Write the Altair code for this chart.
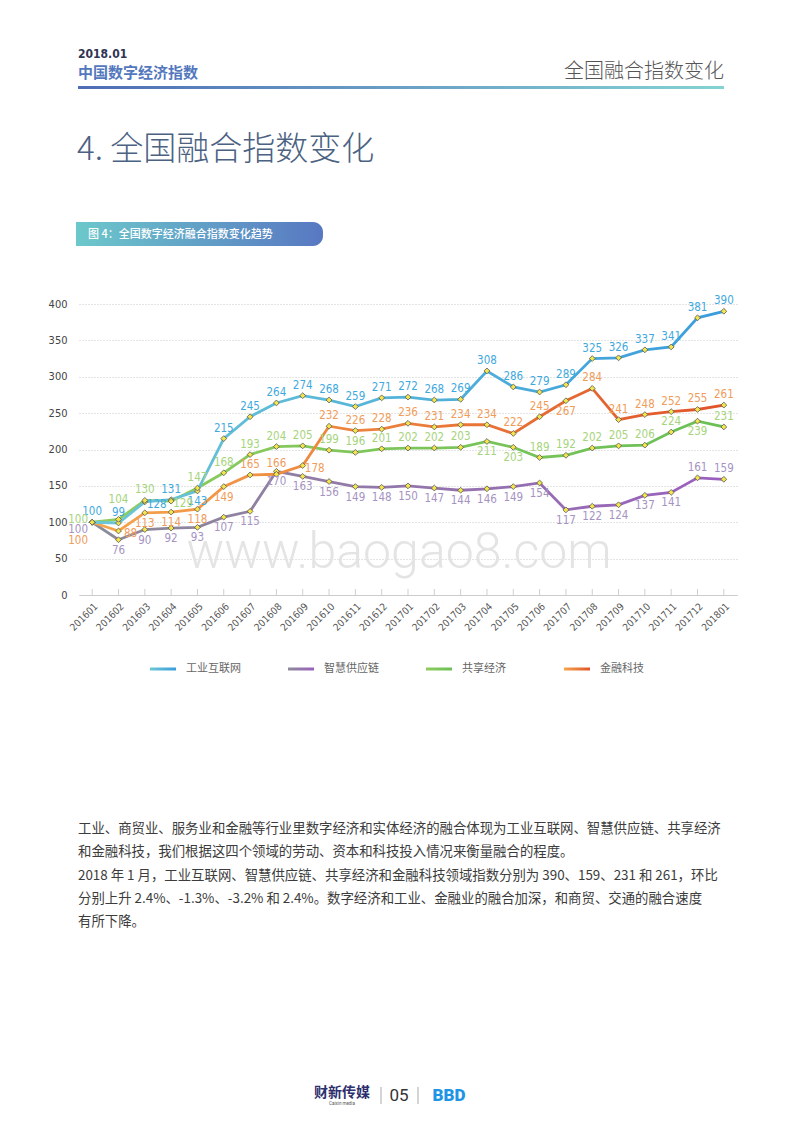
import altair as alt
import pandas as pd

# ---------------- data ----------------
months = ["201601", "201602", "201603", "201604", "201605", "201606", "201607",
          "201608", "201609", "201610", "201611", "201612", "201701", "201702",
          "201703", "201704", "201705", "201706", "201707", "201708", "201709",
          "201710", "201711", "201712", "201801"]
series = ["工业互联网", "智慧供应链", "共享经济", "金融科技"]

industrial_internet = [100, 99, 128, 131, 143, 215, 245, 264, 274, 268, 259, 271, 272,
                       268, 269, 308, 286, 279, 289, 325, 326, 337, 341, 381, 390]
smart_supply_chain = [100, 76, 90, 92, 93, 107, 115, 170, 163, 156, 149, 148, 150,
                      147, 144, 146, 149, 154, 117, 122, 124, 137, 141, 161, 159]
sharing_economy = [100, 104, 130, 129, 147, 168, 193, 204, 205, 199, 196, 201, 202,
                   202, 203, 211, 203, 189, 192, 202, 205, 206, 224, 239, 231]
fintech = [100, 88, 113, 114, 118, 149, 165, 166, 178, 232, 226, 228, 236,
           231, 234, 234, 222, 245, 267, 284, 241, 248, 252, 255, 261]

# label placement codes (style only)
place_ii = ["a", "a", "r", "a", "b"] + ["a"] * 20
place_ss = ["l2"] + ["b"] * 22 + ["a", "a"]
place_se = ["l", "a2", "a", "r"] + ["a"] * 11 + ["b", "b"] + ["a"] * 6 + ["b", "a"]
place_ft = ["l3", "r", "b", "b", "b", "b", "a", "a", "r"] + ["a"] * 9 + ["b"] + ["a"] * 6

values = [industrial_internet, smart_supply_chain, sharing_economy, fintech]
places = [place_ii, place_ss, place_se, place_ft]

rows = []
for s, vals, pl in zip(series, values, places):
    for m, v, p in zip(months, vals, pl):
        rows.append({"month": m, "series": s, "value": v, "place": p})
df = pd.DataFrame(rows)
df_months = pd.DataFrame({"month": months})
one = pd.DataFrame({"k": [0]})

# ---------------- styles ----------------
CJK = "Noto Sans CJK SC"
NUM = "Liberation Sans Narrow, DejaVu Sans Condensed, Roboto Condensed, Roboto, sans-serif"

label_colors = ["#3fa9de", "#a593c2", "#a6d47c", "#f09c5a"]
line_stops = {
    "工业互联网": ["#6cc7d6", "#3a9ddc"],
    "智慧供应链": ["#8c8c98", "#9a5fbf"],
    "共享经济": ["#90cc5e", "#6abf56"],
    "金融科技": ["#f5a64c", "#e0542a"],
}


def grad(c1, c2):
    return alt.Gradient(gradient="linear",
                        stops=[alt.GradientStop(color=c1, offset=0),
                               alt.GradientStop(color=c2, offset=1)],
                        x1=0, x2=1, y1=0, y2=0)


PLACE = {"a": (0, -10), "a2": (0, -19), "b": (0, 11), "r": (12, 3),
         "l": (-14, -2), "l2": (-14, 8), "l3": (-14, 19)}

X = alt.X("month:N", sort=months,
          scale=alt.Scale(type="point", padding=0.5),
          axis=alt.Axis(labelAngle=-45, labelFontSize=10, labelColor="#555555",
                        labelFont=NUM, domainColor="#cccccc", domainWidth=1,
                        ticks=False, labelPadding=6, title=None, grid=False))
Y = alt.Y("value:Q", scale=alt.Scale(domain=[0, 400], nice=False),
          axis=alt.Axis(values=[0, 50, 100, 150, 200, 250, 300, 350, 400],
                        grid=True, gridDash=[1, 2], gridColor="#c8c8c8",
                        domain=False, ticks=False, labelPadding=12,
                        labelFontSize=11, labelColor="#444444", labelFont=NUM,
                        title=None))


def txt(text, x, y, size, color, weight="normal", font=CJK, align="left",
        baseline="middle"):
    return alt.Chart(one).mark_text(
        text=text, align=align, baseline=baseline, fontSize=size, font=font,
        fontWeight=weight, color=color
    ).encode(x=alt.value(x), y=alt.value(y))


layers = []

# ---- page header ----
layers.append(txt("2018.01", -1, -250, 12, "#2f3552", "bold", NUM))
layers.append(txt("中国数字经济指数", -1, -231, 15, "#5478bd", "bold"))
layers.append(txt("全国融合指数变化", 645, -232, 20, "#555555", 300, CJK, "right"))
layers.append(alt.Chart(one).mark_rect(fill=grad("#4f6cb6", "#84d3d3")).encode(
    x=alt.value(-1), x2=alt.value(645), y=alt.value(-218), y2=alt.value(-215)))

# ---- section title ----
layers.append(txt("4. 全国融合指数变化", -2, -154, 33, "#4b6282", 300))

# ---- caption bar ----
layers.append(alt.Chart(one).mark_rect(
    fill=grad("#6cc8cb", "#5878c2"), cornerRadiusTopRight=10,
    cornerRadiusBottomRight=10).encode(
    x=alt.value(-3), x2=alt.value(244), y=alt.value(-82), y2=alt.value(-58)))
layers.append(txt("图 4：全国数字经济融合指数变化趋势", 9, -69.5, 11, "#ffffff", 500))

# ---- watermark ----
layers.append(alt.Chart(one).mark_text(
    text="www.baogao8.com", align="center", baseline="alphabetic", fontSize=50,
    font="Roboto", fontWeight=300, color="#e4e4e4").encode(
    x=alt.value(320), y=alt.value(264)))

# ---- inner x ticks ----
layers.append(alt.Chart(df_months).mark_rule(color="#cfcfcf").encode(
    x=X, y=alt.value(285), y2=alt.value(291)))

# ---- lines + legend ----
line_order = ["智慧供应链", "共享经济", "金融科技", "工业互联网"]
for s in line_order:
    c1, c2 = line_stops[s]
    layers.append(alt.Chart(df).transform_filter(alt.datum.series == s).mark_line(
        stroke=grad(c1, c2), strokeWidth=2.8).encode(x=X, y=Y))

for i, s in enumerate(series):
    c1, c2 = line_stops[s]
    lx = 71 + i * 138
    layers.append(alt.Chart(one).mark_rect(fill=grad(c1, c2)).encode(
        x=alt.value(lx), x2=alt.value(lx + 26), y=alt.value(363.5),
        y2=alt.value(366.5)))
    layers.append(txt(s, lx + 36, 365, 11, "#666666"))

# ---- markers ----
layers.append(alt.Chart(df).mark_point(
    shape="diamond", filled=True, fill="#f3e54b", stroke="#555555",
    strokeWidth=0.8, size=34, opacity=1).encode(x=X, y=Y))

# ---- value labels ----
for code, (dx, dy) in PLACE.items():
    layers.append(alt.Chart(df).transform_filter(alt.datum.place == code).mark_text(
        dx=dx, dy=dy, fontSize=11.5, font=NUM, baseline="middle").encode(
        x=X, y=Y, text=alt.Text("value:Q"),
        color=alt.Color("series:N", scale=alt.Scale(domain=series, range=label_colors),
                        legend=None)))

# ---- body text ----
body = [
    "工业、商贸业、服务业和金融等行业里数字经济和实体经济的融合体现为工业互联网、智慧供应链、共享经济",
    "和金融科技，我们根据这四个领域的劳动、资本和科技投入情况来衡量融合的程度。",
    "2018 年 1 月，工业互联网、智慧供应链、共享经济和金融科技领域指数分别为 390、159、231 和 261，环比",
    "分别上升 2.4%、-1.3%、-3.2% 和 2.4%。数字经济和工业、金融业的融合加深，和商贸、交通的融合速度",
    "有所下降。",
]
for k, line in enumerate(body):
    layers.append(txt(line, -1, 525 + k * 23.3, 13.4, "#3c3c3c"))

# ---- footer ----
layers.append(txt("财新传媒", 263, 789, 14, "#2e2f6e", "bold", CJK, "center"))
layers.append(txt("Caixin media", 263, 800, 4.5, "#555555", "normal", "Roboto", "center"))
layers.append(alt.Chart(one).mark_rule(color="#aaaaaa").encode(
    x=alt.value(302), y=alt.value(783), y2=alt.value(800)))
layers.append(txt("05", 320, 792, 17, "#333333", "normal", "Roboto", "center"))
layers.append(alt.Chart(one).mark_rule(color="#aaaaaa").encode(
    x=alt.value(339), y=alt.value(783), y2=alt.value(800)))
layers.append(txt("BBD", 370, 792, 17, "#1f95e6", 900, "Roboto", "center"))

chart = alt.layer(*layers).properties(
    width=658, height=291,
    autosize=alt.AutoSizeParams(type="none"),
    padding={"left": 71, "top": 296, "right": 55, "bottom": 529},
).configure_view(strokeWidth=0)

chart.save("out.html", embed_options={"renderer": "svg", "actions": False})
